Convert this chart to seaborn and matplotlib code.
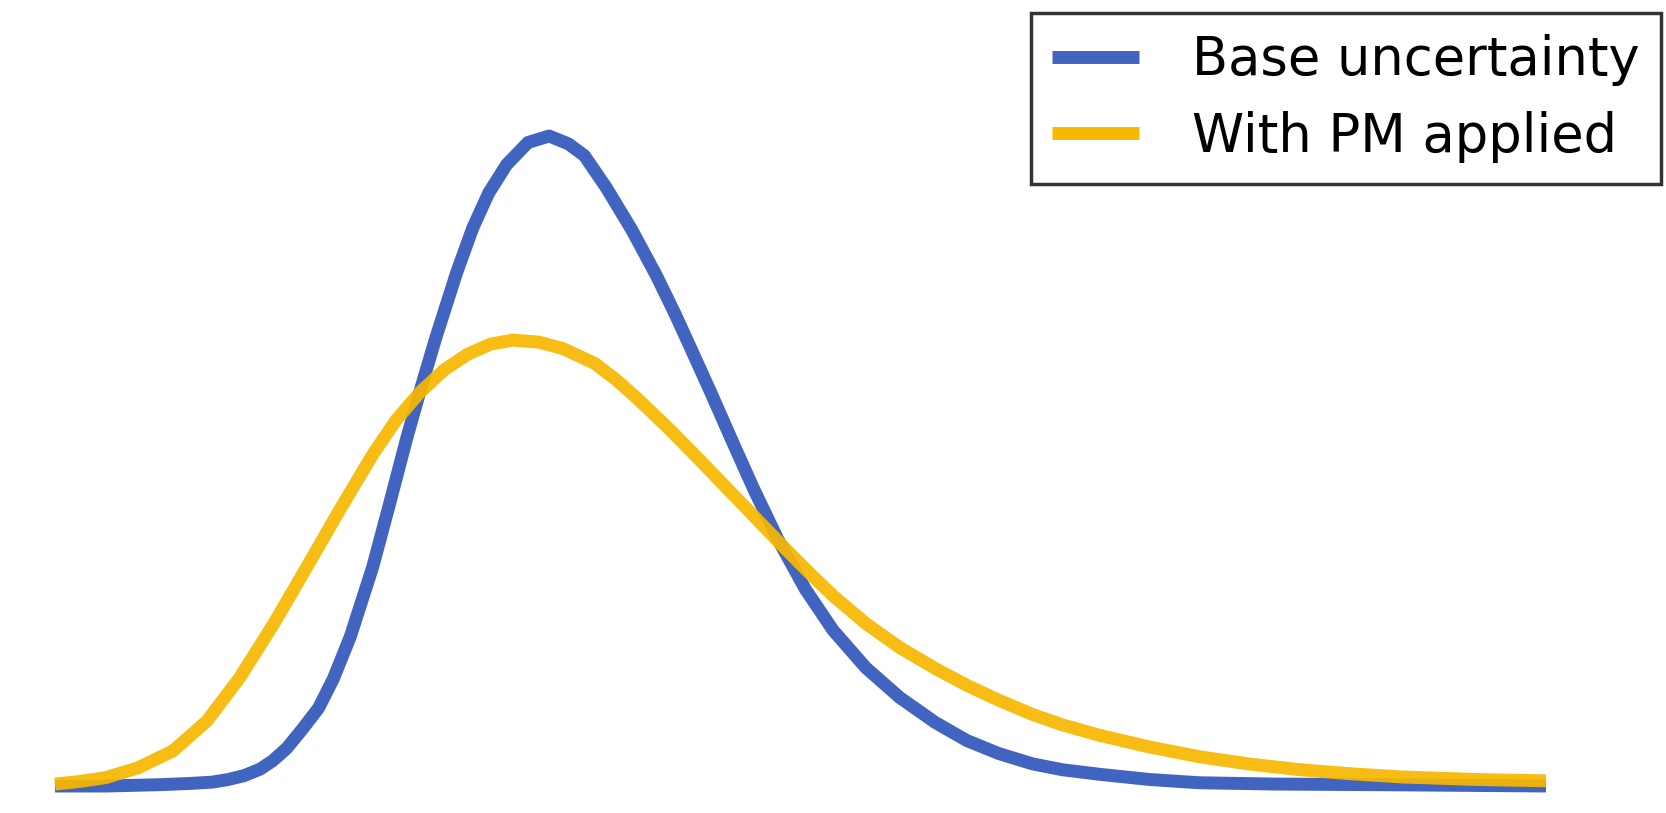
import numpy as np
import pandas as pd
import matplotlib
matplotlib.use("Agg")
import matplotlib.pyplot as plt
import seaborn as sns

# values (x: 0-100 across, y: % of the blue peak)
base_x = [0.0, 3.42, 6.99, 9.12, 10.55, 11.62, 12.69, 13.76, 14.61, 15.54,
          16.61, 17.68, 18.67, 19.81, 21.31, 22.45, 23.59, 24.45, 25.52,
          26.94, 28.01, 29.08, 30.29, 31.72, 33.14, 34.43, 35.50, 36.99,
          38.70, 40.34, 41.55, 42.55, 44.05, 45.47, 46.90, 48.47, 50.32,
          52.17, 54.38, 56.66, 59.02, 61.15, 63.29, 65.57, 67.57, 70.06,
          73.41, 76.76, 81.83, 88.95, 100.0]
base_y = [0.0, 0.0, 0.2, 0.4, 0.6, 1.0, 1.6, 2.6, 3.9, 5.8,
          8.8, 12.0, 16.5, 23.0, 33.7, 43.5, 53.5, 60.5, 68.8,
          79.0, 85.8, 91.2, 95.6, 99.0, 100.0, 98.8, 97.0, 92.0,
          85.5, 78.5, 72.8, 67.8, 60.2, 52.8, 45.5, 38.0, 30.3,
          24.0, 18.2, 13.6, 9.8, 7.0, 5.0, 3.4, 2.5, 1.8,
          1.0, 0.5, 0.3, 0.2, 0.0]

pm_x = [0.0, 1.64, 3.42, 5.56, 7.91, 10.19, 12.40, 14.68, 16.89, 19.10,
        21.31, 22.88, 24.45, 26.09, 27.65, 29.22, 30.72, 32.43, 34.07,
        36.21, 37.63, 39.06, 41.20, 43.26, 45.83, 48.47, 50.32, 52.17,
        54.38, 56.66, 59.02, 61.15, 63.29, 65.57, 67.57, 70.06, 73.41,
        76.76, 80.04, 83.53, 86.81, 90.24, 95.37, 100.0]
pm_y = [0.3, 0.7, 1.3, 2.8, 5.4, 10.0, 16.7, 25.0, 33.7, 42.5,
        51.0, 56.3, 60.5, 64.0, 66.4, 68.0, 68.6, 68.3, 67.3,
        65.0, 62.5, 59.6, 54.9, 50.1, 44.0, 37.7, 33.4, 29.3,
        25.0, 21.3, 18.1, 15.5, 13.2, 11.0, 9.4, 7.8, 6.0,
        4.5, 3.4, 2.5, 1.9, 1.4, 1.0, 0.8]

labels = ["Base uncertainty", "With PM applied"]
blue = "#4164C1"
yellow = "#F8B800"

sns.set_style("white")
plt.rcParams["font.family"] = ["DejaVu Sans"]

fig = plt.figure(figsize=(16.66, 8.13), dpi=100)
ax = fig.add_axes([0.033, 0.0332, 0.895, 0.7995])

df_base = pd.DataFrame({"x": base_x, "y": base_y})
df_pm = pd.DataFrame({"x": pm_x, "y": pm_y})

lw = 9.3
sns.lineplot(data=df_base, x="x", y="y", ax=ax, color=blue, linewidth=lw,
             label=labels[0], solid_capstyle="butt", solid_joinstyle="round",
             clip_on=False)
sns.lineplot(data=df_pm, x="x", y="y", ax=ax, color=yellow, linewidth=lw,
             alpha=0.92, label=labels[1], solid_capstyle="butt",
             solid_joinstyle="round", clip_on=False)

ax.set_xlim(0, 100)
ax.set_ylim(0, 100)
ax.axis("off")

leg = ax.legend(loc="upper right", bbox_to_anchor=(1661 / 1666, 1 - 13 / 813),
                bbox_transform=fig.transFigure, borderaxespad=0,
                fontsize=38, frameon=True, fancybox=False, handlelength=1.65,
                handletextpad=1.0, labelspacing=0.47, borderpad=0.4,
                labelcolor="black")
leg.get_frame().set_edgecolor("black")
leg.get_frame().set_linewidth(2.5)
for h in leg.get_lines():
    h.set_linewidth(lw)
    h.set_alpha(1)

fig.savefig("out.png", dpi=100)
